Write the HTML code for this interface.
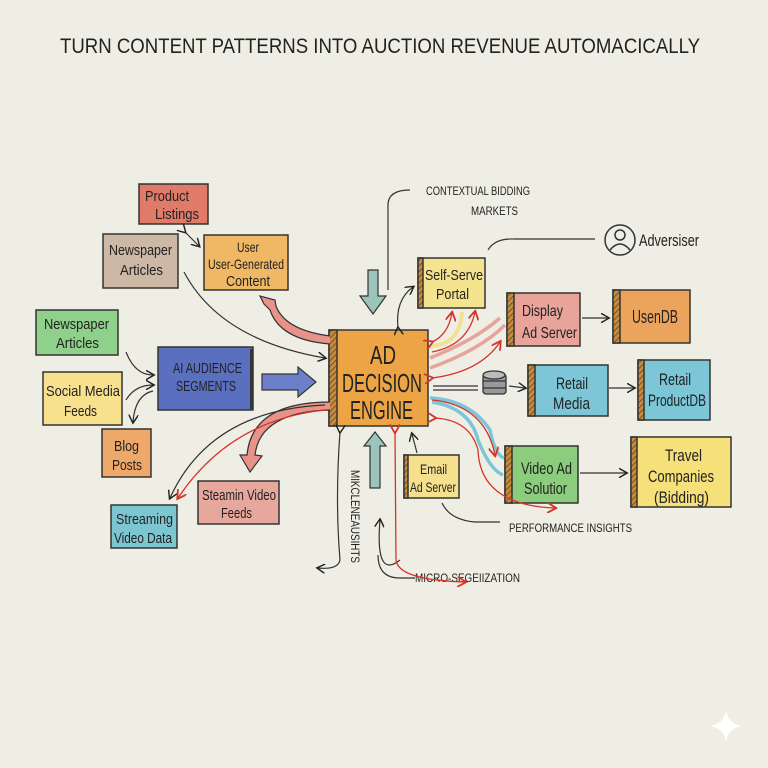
<!DOCTYPE html>
<html><head><meta charset="utf-8"><style>
html,body{margin:0;padding:0;background:#efeee4;}
svg{display:block;font-family:"Liberation Sans",sans-serif;}
</style></head><body>
<svg width="768" height="768" viewBox="0 0 768 768" xmlns="http://www.w3.org/2000/svg">
<defs>
<marker id="a" markerWidth="8" markerHeight="8" refX="6" refY="4" orient="auto"><path d="M0,0 L7,4 L0,8" fill="none" stroke="#222" stroke-width="1.2"/></marker>
<marker id="r" markerWidth="8" markerHeight="8" refX="6" refY="4" orient="auto"><path d="M0,0 L7,4 L0,8" fill="none" stroke="#d6332a" stroke-width="1.4"/></marker>
<pattern id="h" width="4" height="4" patternUnits="userSpaceOnUse" patternTransform="rotate(45)"><rect width="4" height="4" fill="#c98a3a"/><line x1="0" y1="0" x2="0" y2="4" stroke="#333" stroke-width="1.2"/></pattern>
</defs>
<rect width="768" height="768" fill="#efeee4"/>
<text x="60" y="53" font-size="21" fill="#222" textLength="640" lengthAdjust="spacingAndGlyphs">TURN CONTENT PATTERNS INTO AUCTION REVENUE AUTOMACICALLY</text>

<g stroke="#333" stroke-width="1.5" font-size="15" fill="#222" lengthAdjust="spacingAndGlyphs">
<rect x="139" y="184" width="69" height="40" fill="#e07b6a"/>
<text x="145" y="201" stroke="none" textLength="44" lengthAdjust="spacingAndGlyphs">Product</text><text x="155" y="219" stroke="none" textLength="44" lengthAdjust="spacingAndGlyphs">Listings</text>
<rect x="103" y="234" width="75" height="54" fill="#cdb8a6"/>
<text x="109" y="255" stroke="none" textLength="63" lengthAdjust="spacingAndGlyphs">Newspaper</text><text x="120" y="275" stroke="none" textLength="43" lengthAdjust="spacingAndGlyphs">Articles</text>
<rect x="204" y="235" width="84" height="55" fill="#f0b865"/>
<text x="237" y="252" stroke="none" font-size="14" textLength="22" lengthAdjust="spacingAndGlyphs">User</text><text x="208" y="269" stroke="none" font-size="14" textLength="76" lengthAdjust="spacingAndGlyphs">User-Generated</text><text x="226" y="286" stroke="none" textLength="44" lengthAdjust="spacingAndGlyphs">Content</text>
<rect x="36" y="310" width="82" height="45" fill="#8fd18a"/>
<text x="44" y="329" stroke="none" textLength="65" lengthAdjust="spacingAndGlyphs">Newspaper</text><text x="56" y="348" stroke="none" textLength="43" lengthAdjust="spacingAndGlyphs">Articles</text>
<rect x="43" y="372" width="79" height="53" fill="#f7e08e"/>
<text x="46" y="396" stroke="none" textLength="74" lengthAdjust="spacingAndGlyphs">Social Media</text><text x="64" y="416" stroke="none" textLength="33" lengthAdjust="spacingAndGlyphs">Feeds</text>
<rect x="102" y="429" width="49" height="48" fill="#eda86a"/>
<text x="114" y="451" stroke="none" textLength="25" lengthAdjust="spacingAndGlyphs">Blog</text><text x="112" y="470" stroke="none" textLength="30" lengthAdjust="spacingAndGlyphs">Posts</text>
<rect x="158" y="347" width="95" height="63" fill="#5b6fbf"/>
<rect x="250" y="349" width="3" height="60" fill="#333" stroke="none"/>
<text x="173" y="373" stroke="none" font-size="15" textLength="69" lengthAdjust="spacingAndGlyphs">AI AUDIENCE</text><text x="176" y="391" stroke="none" font-size="15" textLength="60" lengthAdjust="spacingAndGlyphs">SEGMENTS</text>
<rect x="111" y="505" width="66" height="43" fill="#7cc6d2"/>
<text x="116" y="524" stroke="none" textLength="57" lengthAdjust="spacingAndGlyphs">Streaming</text><text x="114" y="543" stroke="none" textLength="58" lengthAdjust="spacingAndGlyphs">Video Data</text>
<rect x="198" y="481" width="81" height="43" fill="#e8a79c"/>
<text x="202" y="500" stroke="none" textLength="74" lengthAdjust="spacingAndGlyphs">Steamin Video</text><text x="221" y="518" stroke="none" textLength="31" lengthAdjust="spacingAndGlyphs">Feeds</text>

<rect x="329" y="330" width="99" height="96" fill="#eca444"/>
<rect x="329" y="330" width="8" height="96" fill="url(#h)"/>
<text x="370" y="364" stroke="none" font-size="26" textLength="26" lengthAdjust="spacingAndGlyphs">AD</text>
<text x="342" y="392" stroke="none" font-size="26" textLength="80" lengthAdjust="spacingAndGlyphs">DECISION</text>
<text x="350" y="419" stroke="none" font-size="26" textLength="63" lengthAdjust="spacingAndGlyphs">ENGINE</text>

<rect x="418" y="258" width="67" height="50" fill="#f5e48f"/><rect x="418" y="258" width="5" height="50" fill="url(#h)"/>
<text x="425" y="280" stroke="none" textLength="58" lengthAdjust="spacingAndGlyphs">Self-Serve</text><text x="436" y="299" stroke="none" textLength="33" lengthAdjust="spacingAndGlyphs">Portal</text>
<rect x="507" y="293" width="73" height="53" fill="#e8a39a"/><rect x="507" y="293" width="7" height="53" fill="url(#h)"/>
<text x="522" y="316" stroke="none" font-size="16" textLength="41" lengthAdjust="spacingAndGlyphs">Display</text><text x="522" y="338" stroke="none" font-size="16" textLength="55" lengthAdjust="spacingAndGlyphs">Ad Server</text>
<rect x="613" y="290" width="77" height="53" fill="#eca45c"/><rect x="613" y="290" width="7" height="53" fill="url(#h)"/>
<text x="632" y="323" stroke="none" font-size="18" textLength="46" lengthAdjust="spacingAndGlyphs">UsenDB</text>
<rect x="528" y="365" width="80" height="51" fill="#7cc6d8"/><rect x="528" y="365" width="7" height="51" fill="url(#h)"/>
<text x="556" y="389" stroke="none" font-size="17" textLength="32" lengthAdjust="spacingAndGlyphs">Retail</text><text x="553" y="409" stroke="none" font-size="17" textLength="37" lengthAdjust="spacingAndGlyphs">Media</text>
<rect x="638" y="360" width="72" height="60" fill="#7cc6d8"/><rect x="638" y="360" width="6" height="60" fill="url(#h)"/>
<text x="659" y="385" stroke="none" font-size="17" textLength="32" lengthAdjust="spacingAndGlyphs">Retail</text><text x="648" y="406" stroke="none" font-size="17" textLength="58" lengthAdjust="spacingAndGlyphs">ProductDB</text>
<rect x="505" y="446" width="73" height="57" fill="#8ccc7d"/><rect x="505" y="446" width="7" height="57" fill="url(#h)"/>
<text x="521" y="474" stroke="none" font-size="17" textLength="51" lengthAdjust="spacingAndGlyphs">Video Ad</text><text x="524" y="494" stroke="none" font-size="17" textLength="43" lengthAdjust="spacingAndGlyphs">Solutior</text>
<rect x="631" y="437" width="100" height="70" fill="#f5e07a"/><rect x="631" y="437" width="6" height="70" fill="url(#h)"/>
<text x="665" y="461" stroke="none" font-size="17" textLength="37" lengthAdjust="spacingAndGlyphs">Travel</text><text x="648" y="482" stroke="none" font-size="17" textLength="66" lengthAdjust="spacingAndGlyphs">Companies</text><text x="654" y="503" stroke="none" font-size="17" textLength="55" lengthAdjust="spacingAndGlyphs">(Bidding)</text>
<rect x="404" y="455" width="55" height="43" fill="#f5e08e"/><rect x="404" y="455" width="4" height="43" fill="url(#h)"/>
<text x="420" y="474" stroke="none" font-size="14" textLength="27" lengthAdjust="spacingAndGlyphs">Email</text><text x="410" y="492" stroke="none" font-size="14" textLength="46" lengthAdjust="spacingAndGlyphs">Ad Server</text>
</g>

<g stroke="#333" stroke-width="1.3" fill="#999">
<rect x="483" y="374" width="23" height="20" rx="3"/>
<ellipse cx="494" cy="375" rx="11" ry="4" fill="#bbb"/>
<line x1="483" y1="381" x2="506" y2="381"/><line x1="483" y1="388" x2="506" y2="388"/>
</g>
<circle cx="620" cy="240" r="15" fill="none" stroke="#333" stroke-width="1.5"/>
<circle cx="620" cy="235" r="5" fill="none" stroke="#333" stroke-width="1.5"/>
<path d="M610,250 Q620,238 630,250" fill="none" stroke="#333" stroke-width="1.5"/>
<text x="639" y="246" font-size="17" fill="#222" textLength="60" lengthAdjust="spacingAndGlyphs">Adversiser</text>
<path d="M488,250 Q495,238 515,239 L595,239" fill="none" stroke="#333" stroke-width="1.2"/>

<g font-size="12" fill="#222" lengthAdjust="spacingAndGlyphs">
<text x="426" y="195" textLength="104" lengthAdjust="spacingAndGlyphs">CONTEXTUAL BIDDING</text>
<text x="471" y="215" textLength="47" lengthAdjust="spacingAndGlyphs">MARKETS</text>
<text x="509" y="532" textLength="123" lengthAdjust="spacingAndGlyphs">PERFORMANCE INSIGHTS</text>
<text x="415" y="582" textLength="105" lengthAdjust="spacingAndGlyphs">MICRO-SEGEIIZATION</text>
<text transform="translate(351,470) rotate(90)" textLength="93" lengthAdjust="spacingAndGlyphs">MIKCLENEAUSIHTS</text>
</g>
<path d="M388,290 L388,205 Q388,190 410,190" fill="none" stroke="#333" stroke-width="1.2"/>
<path d="M442,503 Q450,520 475,522 L500,522" fill="none" stroke="#333" stroke-width="1.2"/>

<path d="M262,374 L298,374 L298,367 L316,382 L298,397 L298,390 L262,390 Z" fill="#6b80c8" stroke="#333" stroke-width="1.2"/>
<path d="M368,270 L378,270 L378,296 L386,296 L373,314 L360,296 L368,296 Z" fill="#9cc4bb" stroke="#333" stroke-width="1.2"/>
<path d="M370,488 L380,488 L380,446 L386,446 L375,432 L364,446 L370,446 Z" fill="#9cc4bb" stroke="#333" stroke-width="1.2"/>
<path d="M330,344 Q280,340 270,310 L264,304 L260,296 L275,300 L276,306 Q285,330 330,336" fill="#e8928a" stroke="#333" stroke-width="1.2"/>
<path d="M330,410 Q260,412 255,455 L262,456 L250,472 L240,455 L247,455 Q252,402 330,402" fill="#e8928a" stroke="#333" stroke-width="1.2"/>

<g fill="none" stroke="#333" stroke-width="1.2">
<path d="M185,232 L199,246" marker-end="url(#a)" marker-start="url(#a)"/>
<path d="M184,272 Q220,340 325,358" marker-end="url(#a)"/>
<path d="M126,352 Q135,375 153,375" marker-end="url(#a)"/>
<path d="M126,400 Q135,385 153,385" marker-end="url(#a)"/>
<path d="M153,391 Q135,395 133,422" marker-end="url(#a)"/>
<path d="M325,405 Q210,410 170,498" marker-end="url(#a)"/>
<path d="M340,432 Q335,500 340,560 Q338,570 318,568" marker-end="url(#a)" marker-start="url(#a)"/>
<path d="M400,560 Q375,580 380,520" marker-end="url(#a)"/>
<path d="M415,578 L400,578 Q378,578 378,555"/>
</g>
<path d="M325,410 Q230,420 178,498" fill="none" stroke="#d6332a" stroke-width="1.3" marker-end="url(#r)"/>

<g fill="none" stroke-width="3.5">
<path d="M430,346 Q460,345 462,312" stroke="#f2e08a"/>
<path d="M430,358 Q475,340 500,318" stroke="#e8a39a"/>
<path d="M430,368 Q480,350 505,325" stroke="#e8a39a"/>
<path d="M430,398 Q470,400 490,430 Q495,455 504,458" stroke="#7cc6d8"/>
<path d="M432,402 Q470,408 478,440 Q490,470 503,475" stroke="#7cc6d8"/>
</g>
<g fill="none" stroke="#333" stroke-width="1.2">
<path d="M398,328 Q395,300 413,287" marker-end="url(#a)" marker-start="url(#a)"/>
<path d="M433,390 L478,390"/><path d="M433,386 L478,386"/>
<path d="M509,386 L525,388" marker-end="url(#a)"/>
<path d="M582,318 L608,318" marker-end="url(#a)"/>
<path d="M609,388 L634,388" marker-end="url(#a)"/>
<path d="M580,473 L626,473" marker-end="url(#a)"/>
<path d="M417,453 L412,434" marker-end="url(#a)"/>
</g>
<g fill="none" stroke="#d6332a" stroke-width="1.3">
<path d="M432,342 Q448,335 452,313" marker-end="url(#r)" marker-start="url(#r)"/>
<path d="M432,352 Q468,345 475,312" marker-end="url(#r)"/>
<path d="M432,378 Q480,372 500,342" marker-end="url(#r)" marker-start="url(#r)"/>
<path d="M432,400 Q485,405 495,455" marker-end="url(#r)"/>
<path d="M435,418 Q470,420 478,450 Q480,505 555,508" marker-end="url(#r)" marker-start="url(#r)"/>
<path d="M395,432 L396,560 Q398,580 465,582" marker-start="url(#r)" marker-end="url(#r)"/>
</g>

<path d="M726,710 Q728,724 742,726 Q728,728 726,742 Q724,728 710,726 Q724,724 726,710 Z" fill="#fff"/>
</svg>
</body></html>
